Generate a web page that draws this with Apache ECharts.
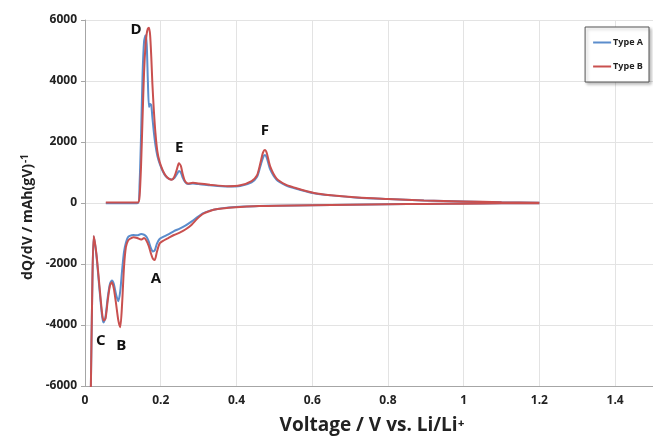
<!DOCTYPE html>
<html>
<head>
<meta charset="utf-8">
<script src="https://cdn.jsdelivr.net/npm/echarts@6/dist/echarts.min.js"></script>
<style>
  html, body { margin: 0; padding: 0; background: #fff; }
  #chart { width: 653px; height: 440px; }
</style>
</head>
<body>
<div id="chart"></div>
<script>
// Discharge branch (lithiation), voltage in V
const dischargeV = [0.015, 0.019, 0.023, 0.030, 0.038, 0.045, 0.049, 0.054, 0.060, 0.066, 0.071, 0.076,
  0.082, 0.088, 0.093, 0.098, 0.103, 0.108, 0.113, 0.118, 0.128, 0.138, 0.148, 0.156, 0.162, 0.168,
  0.174, 0.179, 0.184, 0.190, 0.197, 0.205, 0.220, 0.235, 0.250, 0.265, 0.281, 0.296, 0.311, 0.330,
  0.350, 0.380, 0.420, 0.460, 0.506, 0.600, 0.700, 0.800, 0.900, 1.000, 1.100, 1.200];
const dischargeA = [-6500, -3000, -1100, -1700, -2800, -3700, -3920, -3750, -3100, -2650, -2540, -2650,
  -3000, -3220, -2900, -2200, -1600, -1300, -1130, -1080, -1050, -1060, -1020, -1040, -1100, -1250,
  -1480, -1590, -1560, -1330, -1180, -1120, -1030, -920, -840, -740, -610, -470, -340, -250,
  -195, -150, -118, -100, -88, -70, -55, -42, -30, -20, -12, -5];
const dischargeB = [-6500, -3000, -1080, -1650, -2700, -3600, -3850, -3800, -3200, -2700, -2600, -2800,
  -3300, -3850, -4070, -3300, -2100, -1450, -1250, -1180, -1120, -1150, -1200, -1150, -1230, -1400,
  -1650, -1820, -1870, -1600, -1330, -1250, -1150, -1050, -970, -870, -720, -520, -360, -260,
  -200, -155, -120, -102, -90, -72, -56, -43, -31, -21, -12, -5];

// Charge branch (delithiation)
const chargeV = [0.055, 0.100, 0.140, 0.144, 0.148, 0.152, 0.156, 0.160, 0.163, 0.166, 0.169, 0.172,
  0.175, 0.178, 0.182, 0.186, 0.191, 0.197, 0.205, 0.213, 0.221, 0.229, 0.236, 0.243, 0.248, 0.253,
  0.258, 0.264, 0.272, 0.285, 0.300, 0.330, 0.376, 0.410, 0.440, 0.454, 0.463, 0.470, 0.475, 0.480,
  0.489, 0.506, 0.530, 0.549, 0.605, 0.650, 0.721, 0.800, 0.895, 1.000, 1.100, 1.200];
const chargeA = [-10, -10, 0, 600, 2200, 4200, 5300, 5500, 5200, 4000, 3150, 3250,
  3200, 2800, 2300, 1900, 1550, 1300, 1050, 880, 800, 770, 820, 950, 1050, 1000,
  830, 690, 620, 640, 620, 580, 540, 560, 680, 850, 1200, 1480, 1570, 1480,
  1100, 760, 580, 500, 318, 250, 175, 130, 80, 50, 25, 10];
const chargeB = [20, 20, 20, 200, 1200, 2800, 4300, 5200, 5550, 5720, 5750, 5500,
  4800, 3900, 3000, 2300, 1700, 1350, 1080, 900, 800, 760, 860, 1120, 1300, 1220,
  950, 720, 640, 660, 640, 600, 550, 580, 720, 900, 1300, 1650, 1740, 1640,
  1200, 800, 600, 520, 330, 255, 178, 132, 82, 52, 26, 10];

const seriesNames = ['Type A', 'Type B'];
const xTicks = { min: 0, max: 1.5, interval: 0.2 };
const yTicks = { min: -6000, max: 6000, interval: 2000 };

// Peak annotations [label, voltage, dQ/dV]
const peakLabels = [
  ['D', 0.135, 5670],
  ['E', 0.249, 1800],
  ['F', 0.475, 2360],
  ['A', 0.187, -2490],
  ['C', 0.042, -4520],
  ['B', 0.096, -4680]
];

function branch(v, y) { return v.map((x, i) => [x, y[i]]); }
function joinBranches(a, b) { return a.concat([[null, '-']], b); }

const dataA = joinBranches(branch(dischargeV, dischargeA), branch(chargeV, chargeA));
const dataB = joinBranches(branch(dischargeV, dischargeB), branch(chargeV, chargeB));

const FONT = '"Open Sans", "DejaVu Sans", sans-serif';

const chart = echarts.init(document.getElementById('chart'), null, { renderer: 'canvas' });
chart.setOption({
  backgroundColor: '#ffffff',
  animation: false,
  grid: { left: 85, right: -9, top: 20, bottom: 53, containLabel: false },
  legend: {
    data: seriesNames,
    orient: 'vertical',
    right: 4,
    top: 27,
    icon: 'rect',
    itemWidth: 18,
    itemHeight: 2,
    itemGap: 15,
    padding: [11, 6, 11, 8],
    borderColor: '#555',
    borderWidth: 1,
    backgroundColor: '#fff',
    shadowColor: 'rgba(0,0,0,0.25)',
    shadowBlur: 3,
    shadowOffsetX: 2,
    shadowOffsetY: 2,
    textStyle: { fontFamily: FONT, fontWeight: 'bold', fontSize: 9, color: '#222', padding: [0, 0, 0, -3] }
  },
  xAxis: {
    type: 'value',
    min: xTicks.min, max: xTicks.max, interval: xTicks.interval,
    name: 'Voltage / V vs. Li/Li⁺',
    nameLocation: 'middle',
    nameGap: 30,
    nameTextStyle: { fontFamily: FONT, fontWeight: 'bold', fontSize: 19, color: '#222', padding: [0, 0, 0, 6] },
    axisLine: { show: true, onZero: false, lineStyle: { color: '#a6a6a6', width: 1 } },
    axisTick: { show: false },
    axisLabel: { showMaxLabel: false, fontFamily: FONT, fontWeight: 'bold', fontSize: 12, color: '#222', margin: 9 },
    splitLine: { show: true, lineStyle: { color: '#e3e3e3', width: 1 } }
  },
  yAxis: {
    type: 'value',
    min: yTicks.min, max: yTicks.max, interval: yTicks.interval,
    name: 'dQ/dV / mAh(gV){sup|-1}',
    nameLocation: 'middle',
    nameGap: 47,
    nameTextStyle: {
      fontFamily: FONT, fontWeight: 'bold', fontSize: 14, color: '#222',
      padding: [0, 28, 0, 0],
      rich: {
        sup: { fontFamily: FONT, fontWeight: 'bold', fontSize: 10, color: '#222', verticalAlign: 'top', padding: [0, 0, 5, 1] }
      }
    },
    axisLine: { show: true, lineStyle: { color: '#a6a6a6', width: 1 } },
    axisTick: { show: true, length: 4, lineStyle: { color: '#a6a6a6' } },
    axisLabel: { fontFamily: FONT, fontWeight: 'bold', fontSize: 12, color: '#222', margin: 8, formatter: v => String(v) },
    splitLine: { show: true, lineStyle: { color: '#e3e3e3', width: 1 } }
  },
  series: [
    {
      name: seriesNames[0],
      type: 'line',
      data: dataA,
      smooth: 0.25,
      symbol: 'none',
      connectNulls: false,
      clip: true,
      lineStyle: { color: '#5b8dcc', width: 2 },
      itemStyle: { color: '#5b8dcc' }
    },
    {
      name: seriesNames[1],
      type: 'line',
      data: dataB,
      smooth: 0.25,
      symbol: 'none',
      connectNulls: false,
      clip: true,
      lineStyle: { color: '#c9504f', width: 2 },
      itemStyle: { color: '#c9504f' },
      markPoint: {
        symbol: 'circle',
        symbolSize: 0,
        silent: true,
        label: {
          show: true,
          position: 'inside',
          formatter: '{b}',
          fontFamily: FONT,
          fontWeight: 'bold',
          fontSize: 15,
          color: '#111'
        },
        data: peakLabels.map(p => ({ name: p[0], coord: [p[1], p[2]] }))
      }
    }
  ]
});
</script>
</body>
</html>
